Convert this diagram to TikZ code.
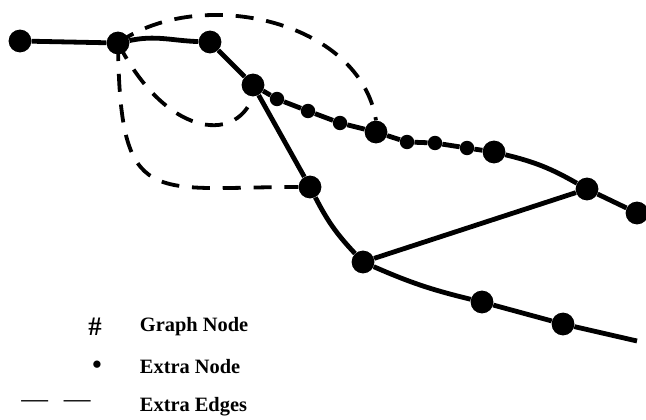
\documentclass[tikz,border=0pt]{standalone}
\usepackage{fontspec}
\setmainfont{Liberation Serif}
\usepackage{tikz}

\begin{document}
\begin{tikzpicture}[
  x=0.025cm, y=-0.025cm,
  gnode/.style={circle, fill=black, inner sep=0pt, minimum size=0.57cm},
  xnode/.style={circle, fill=black, inner sep=0pt, minimum size=0.36cm},
  gline/.style={line width=0.12cm, black},
  xline/.style={line width=0.095cm, dash pattern=on 0.45cm off 0.32cm},
  every node/.style={font=\fontsize{14.5}{16}\selectfont\bfseries}
]
\useasboundingbox (0,0) rectangle (646,420);

% Graph nodes
\node[gnode] (a) at (20, 41) {};
\node[gnode] (b) at (118, 43) {};
\node[gnode] (c) at (210, 42) {};
\node[gnode] (d) at (253, 85) {};
\node[gnode] (e) at (376, 132) {};
\node[gnode] (f) at (494, 152) {};
\node[gnode] (g) at (587, 189) {};
\node[gnode] (h) at (637, 213) {};
\node[gnode] (i) at (310, 187) {};
\node[gnode] (j) at (363, 262) {};
\node[gnode] (k) at (482, 302) {};
\node[gnode] (l) at (563, 324) {};
\coordinate (end) at (637, 341);

% Extra nodes
\node[xnode] (x1) at (277, 99) {};
\node[xnode] (x2) at (308, 111) {};
\node[xnode] (x3) at (340, 123) {};
\node[xnode] (x4) at (407, 142) {};
\node[xnode] (x5) at (435, 143) {};
\node[xnode] (x6) at (467, 148) {};

% Graph edges
\draw[gline] (a) -- (b);
\draw[gline] (b) to[out=12, in=178] (c);
\draw[gline] (c) -- (d);
\draw[gline] (d) -- (x1) -- (x2) -- (x3) -- (e);
\draw[gline] (e) -- (x4) -- (x5) -- (x6) -- (f);
\draw[gline] (f) to[bend left=8] (g);
\draw[gline] (g) -- (h);
\draw[gline] (d) -- (i);
\draw[gline] (i) to[bend right=8] (j);
\draw[gline] (j) -- (g);
\draw[gline] (j) to[bend right=5] (k);
\draw[gline] (k) -- (l) -- (end);

% Extra edges
\draw[xline] (b.center) .. controls (200,-15) and (360,20) .. (e.north);
\draw[xline] (b.center) .. controls (120,210) and (150,187) .. (i.west);
\draw[xline] (b.center) .. controls (165,135) and (235,145) .. (d.south);

% Legend
\node[font=\fontsize{19}{20}\selectfont\bfseries] (k1) at (95, 327) {\#};
\node[anchor=west] (t1) at (135, 327) {Graph Node};
\node[font=\fontsize{19}{20}\selectfont\bfseries] (k2) at (97, 367) {\textbullet};
\node[anchor=west] (t2) at (135, 367) {Extra Node};
\node[font=\fontsize{19}{20}\selectfont\mdseries] (k3) at (56, 404) {—\hspace{0.4cm}—};
\node[anchor=west] (t3) at (135, 407) {Extra Edges};

\end{tikzpicture}
\end{document}
